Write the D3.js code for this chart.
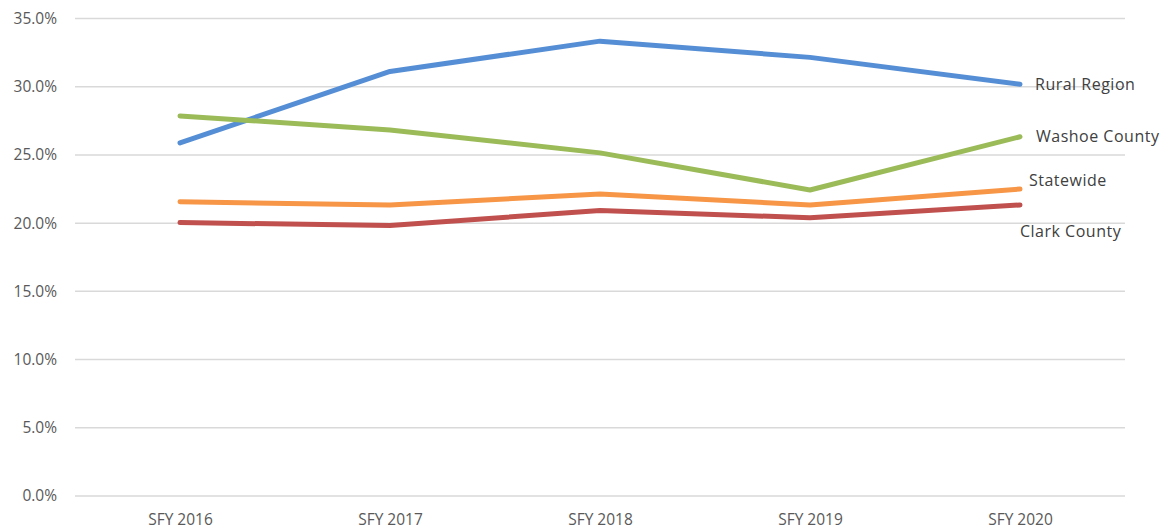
<!DOCTYPE html>
<html><head><meta charset="utf-8">
<script src="https://cdn.jsdelivr.net/npm/d3@7"></script>
<style>body{margin:0;background:#fff}svg{display:block}</style>
</head><body>
<svg id="chart" width="1173" height="531"></svg>
<script>
const categories = ["SFY 2016","SFY 2017","SFY 2018","SFY 2019","SFY 2020"];
const ruralRegion = [0.2588,0.3112,0.3334,0.3215,0.3018];
const washoeCounty = [0.2786,0.2683,0.2515,0.2243,0.2633];
const statewide = [0.2157,0.2133,0.2214,0.2133,0.2250];
const clarkCounty = [0.2004,0.1983,0.2092,0.2040,0.2133];
const yTicks = [0,0.05,0.10,0.15,0.20,0.25,0.30,0.35];
const seriesNames = ["Rural Region","Washoe County","Statewide","Clark County"];
const seriesColors = ["#558ED5","#9BBB59","#F79646","#C0504D"];

(function(){
const series = [ruralRegion, washoeCounty, statewide, clarkCounty].map((v,i)=>({name:seriesNames[i], values:v, color:seriesColors[i]}));

const svg = d3.select("#chart");
const mLeft = 75, mRight = 1125, mTop = 18.5, mBottom = 496;
const x = d3.scalePoint().domain(categories).range([mLeft, mRight]).padding(0.5);
const y = d3.scaleLinear().domain([0,0.35]).range([mBottom, mTop]);
const font = "'Open Sans', sans-serif";

svg.append("g").selectAll("line").data(yTicks).join("line")
  .attr("x1", mLeft).attr("x2", mRight)
  .attr("y1", d=>y(d)).attr("y2", d=>y(d))
  .attr("stroke","#d9d9d9").attr("stroke-width",1.5);

const yAxis = d3.axisLeft(y).tickValues(yTicks).tickFormat(d3.format(".1%")).tickSize(0).tickPadding(0);
const ya = svg.append("g").attr("transform","translate(57,0)").call(yAxis);
ya.select(".domain").remove();
ya.selectAll("text").attr("font-family",font).attr("font-size",15.5).attr("fill","#595959");

const xAxis = d3.axisBottom(x).tickSize(0).tickPadding(0);
const xa = svg.append("g").attr("transform","translate(0,514)").call(xAxis);
xa.select(".domain").remove();
xa.selectAll("text").attr("font-family",font).attr("font-size",15.5).attr("fill","#595959");

const line = d3.line().x((d,i)=>x(categories[i])).y(d=>y(d));
svg.append("g").selectAll("path").data(series).join("path")
  .attr("d", d=>line(d.values))
  .attr("fill","none").attr("stroke", d=>d.color)
  .attr("stroke-width",5).attr("stroke-linecap","round").attr("stroke-linejoin","round");

const labelPos = [{dx:15, dy:0},{dx:16, dy:0},{dx:9, dy:-9},{dx:0, dy:26}];
svg.append("g").selectAll("text").data(series).join("text")
  .attr("x", (d,i)=>x(categories[4]) + labelPos[i].dx)
  .attr("y", (d,i)=>y(d.values[4]) + labelPos[i].dy)
  .attr("dy","0.35em")
  .attr("font-family",font).attr("font-size",16).attr("letter-spacing",0.5)
  .attr("fill","#404040")
  .text(d=>d.name);
})();
</script>
</body></html>
